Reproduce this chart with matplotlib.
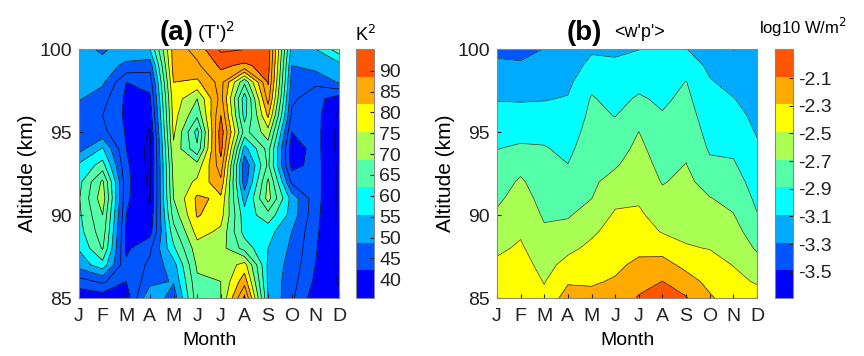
import numpy as np
import matplotlib
matplotlib.use("Agg")
import matplotlib.pyplot as plt
from matplotlib.colors import ListedColormap, Normalize
from matplotlib.cm import ScalarMappable

plt.rcParams['font.family'] = ['Liberation Sans', 'DejaVu Sans']
plt.rcParams['axes.unicode_minus'] = False

months = ['J', 'F', 'M', 'A', 'M', 'J', 'J', 'A', 'S', 'O', 'N', 'D']
month_num = np.arange(1, 13)
altitude = np.arange(100, 84, -1)   # 100 ... 85 km

# (T')^2 [K^2], one row per altitude (100 km first), columns Jan..Dec
tvar = np.array([
    [52, 49, 53, 55, 82, 87, 96, 95.2, 93, 53, 55, 63],
    [52, 52, 49, 47, 82, 84, 91, 89, 92, 50, 52, 53],
    [51.5, 51, 40, 42, 80, 79, 87, 66, 90.5, 48, 46, 50.5],
    [50.5, 47, 39, 39, 78, 70, 87, 57, 87, 46, 42, 37],
    [47, 45, 39, 37, 77, 66, 90, 58, 81, 44, 42, 34],
    [45, 46.5, 39.5, 34.5, 76, 58, 93, 63, 73, 40, 42, 33.5],
    [48, 55.5, 40, 33.5, 74, 61, 92, 53, 67, 37, 42, 33.5],
    [56, 62, 41, 33.5, 72, 72, 88, 46, 66, 38, 42, 34],
    [58.5, 71, 41.5, 34, 71, 76, 84, 47, 71, 44, 42, 34],
    [59.5, 73, 41, 34.5, 70, 81, 79, 53, 72, 53, 42, 34],
    [59, 70, 40, 36, 67, 80.5, 77, 57, 63, 53, 41.5, 34],
    [58, 68, 39, 38, 63, 77, 74, 58, 57, 50, 41, 34],
    [55.5, 65.5, 39, 44, 59, 73, 72, 63, 55, 49, 40.5, 34],
    [52, 58, 41, 46, 53, 71, 71, 77, 54, 48, 40, 34],
    [43, 46, 40, 48, 50.5, 69, 70, 83, 54, 47, 39, 34.5],
    [36, 37, 37, 55, 47, 68, 70, 91, 55, 46, 37, 36],
])

# <w'p'> [log10 W/m^2], one row per month (Jan..Dec), altitudes 100 -> 85
wp_month = np.array([
    [-3.334, -3.256, -3.178, -3.100, -3.030, -2.962, -2.894, -2.838, -2.780, -2.724, -2.662, -2.592, -2.524, -2.454, -2.386, -2.316],
    [-3.346, -3.266, -3.186, -3.106, -3.028, -2.950, -2.862, -2.746, -2.664, -2.614, -2.564, -2.514, -2.464, -2.414, -2.364, -2.314],
    [-3.286, -3.224, -3.162, -3.100, -3.024, -2.944, -2.876, -2.836, -2.794, -2.752, -2.712, -2.664, -2.610, -2.554, -2.500, -2.446],
    [-3.246, -3.188, -3.132, -3.078, -3.030, -2.982, -2.934, -2.886, -2.826, -2.768, -2.708, -2.628, -2.534, -2.430, -2.314, -2.196],
    [-3.118, -3.034, -2.936, -2.874, -2.844, -2.812, -2.782, -2.752, -2.722, -2.692, -2.608, -2.522, -2.448, -2.380, -2.310, -2.242],
    [-3.120, -3.060, -3.006, -2.950, -2.896, -2.834, -2.770, -2.708, -2.624, -2.534, -2.466, -2.418, -2.370, -2.324, -2.274, -2.224],
    [-3.094, -3.020, -2.944, -2.866, -2.776, -2.688, -2.644, -2.602, -2.558, -2.514, -2.460, -2.394, -2.330, -2.254, -2.162, -2.072],
    [-3.074, -3.024, -2.974, -2.924, -2.876, -2.832, -2.788, -2.746, -2.702, -2.640, -2.572, -2.504, -2.362, -2.220, -2.088, -1.960],
    [-3.086, -2.982, -2.884, -2.844, -2.804, -2.764, -2.724, -2.684, -2.646, -2.606, -2.566, -2.526, -2.476, -2.344, -2.210, -2.076],
    [-3.196, -3.130, -3.074, -3.034, -2.994, -2.954, -2.912, -2.852, -2.766, -2.682, -2.620, -2.558, -2.496, -2.420, -2.344, -2.266],
    [-3.296, -3.208, -3.146, -3.084, -3.032, -2.978, -2.924, -2.868, -2.806, -2.744, -2.682, -2.620, -2.558, -2.496, -2.438, -2.382],
    [-3.270, -3.234, -3.198, -3.166, -3.134, -3.104, -3.064, -3.018, -2.974, -2.930, -2.880, -2.796, -2.714, -2.614, -2.510, -2.406],
])
wp = wp_month.T

tvar_ticks = [40, 45, 50, 55, 60, 65, 70, 75, 80, 85, 90]
wp_ticks = [-3.5, -3.3, -3.1, -2.9, -2.7, -2.5, -2.3, -2.1]

# 9 colours, jet-like
jet9 = ['#0000ff', '#0055ff', '#00aaff', '#00ffff', '#55ffaa',
        '#aaff55', '#ffff00', '#ffaa00', '#ff5500']
cmap = ListedColormap(jet9)
cmap.set_under(jet9[0])
cmap.set_over(jet9[-1])

norm_a = Normalize(35.5, 95.2)
norm_b = Normalize(-3.69, -1.89)
levels_a = np.arange(30, 101, 5)
levels_b = np.linspace(-3.69, -1.89, 10)

fig = plt.figure(figsize=(8.64, 3.56), dpi=100)
ax1 = fig.add_axes([0.0914, 0.1629, 0.301, 0.6994])
cax1 = fig.add_axes([0.412, 0.1629, 0.0208, 0.6994])
ax2 = fig.add_axes([0.5752, 0.1629, 0.301, 0.6994])
cax2 = fig.add_axes([0.897, 0.1629, 0.0208, 0.6994])

X, Y = np.meshgrid(month_num, altitude)

ax1.contourf(X, Y, tvar, levels=levels_a, cmap=cmap, norm=norm_a)
ax1.contour(X, Y, tvar, levels=levels_a, colors='k', linewidths=0.5,
            linestyles='solid')

ax2.contourf(X, Y, wp, levels=levels_b, cmap=cmap, norm=norm_b)
ax2.contour(X, Y, wp, levels=levels_b, colors='#333333', linewidths=0.5,
            linestyles='solid')

for ax in (ax1, ax2):
    ax.set_xlim(1, 12)
    ax.set_ylim(85, 100)
    ax.set_xticks(month_num)
    ax.set_xticklabels(months)
    ax.set_yticks([85, 90, 95, 100])
    ax.tick_params(direction='in', length=3, labelsize=14, colors='#222222')
    ax.tick_params(axis='x', pad=7)
    ax.tick_params(axis='y', pad=5)
    for s in ax.spines.values():
        s.set_color('#888888')
        s.set_linewidth(0.8)
    ax.set_xlabel('Month', fontsize=14, labelpad=5)
    ax.set_ylabel('Altitude (km)', fontsize=15, labelpad=2)

ax1.text(0.44, 1.035, '(a)', transform=ax1.transAxes, ha='right',
         va='baseline', fontsize=20, fontweight='bold')
ax1.text(0.455, 1.04, "(T')$^2$", transform=ax1.transAxes, ha='left',
         va='baseline', fontsize=14)
ax2.text(0.405, 1.035, '(b)', transform=ax2.transAxes, ha='right',
         va='baseline', fontsize=20, fontweight='bold')
ax2.text(0.45, 1.05, "<w'p'>", transform=ax2.transAxes, ha='left',
         va='baseline', fontsize=13)

cb1 = fig.colorbar(ScalarMappable(norm=norm_a, cmap=cmap), cax=cax1,
                   ticks=tvar_ticks)
cb2 = fig.colorbar(ScalarMappable(norm=norm_b, cmap=cmap), cax=cax2,
                   ticks=wp_ticks)
cb2.ax.set_yticklabels(['%.1f' % t for t in wp_ticks])
for cb in (cb1, cb2):
    cb.outline.set_edgecolor('#888888')
    cb.outline.set_linewidth(0.8)
    cb.ax.tick_params(direction='in', length=3, labelsize=14,
                      colors='#222222', pad=4)

fig.text(0.4225, 0.885, 'K$^2$', ha='center', va='baseline', fontsize=13)
fig.text(0.879, 0.905, 'log10 W/m$^2$', ha='left', va='baseline', fontsize=12)

fig.savefig('out.png', dpi=100)
